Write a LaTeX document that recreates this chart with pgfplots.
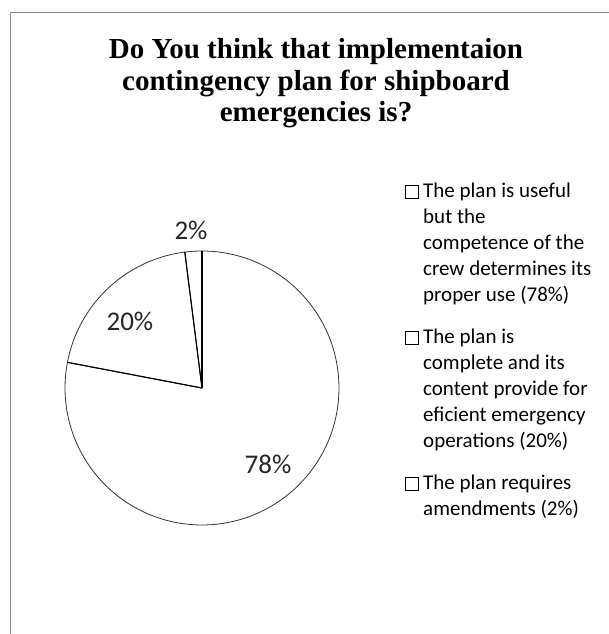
\documentclass[border=0pt]{standalone}
\usepackage{pgfplots}
\pgfplotsset{compat=1.18}
\usepackage{fontspec}
\setmainfont{Carlito}
\newfontfamily\titlefont{Liberation Serif}
\begin{document}
\begin{tikzpicture}
\path[use as bounding box] (0,0) rectangle (608pt,634pt);
\fill[white] (0,0) rectangle (608pt,634pt);
\draw[color={rgb,255:red,140;green,140;blue,140}, line width=1.6pt] (10.5pt,-5pt) -- (10.5pt,621.5pt) -- (615pt,621.5pt);
% title
\node[anchor=base, font=\titlefont\bfseries\fontsize{29}{31}\selectfont] at (316pt,575pt) {Do You think that implementaion};
\node[anchor=base, font=\titlefont\bfseries\fontsize{29}{31}\selectfont] at (316pt,543.5pt) {contingency plan for shipboard};
\node[anchor=base, font=\titlefont\bfseries\fontsize{29}{31}\selectfont] at (316pt,512pt) {emergencies is?};
\begin{axis}[
  hide axis, x=137pt, y=137pt,
  xmin=-1, xmax=1, ymin=-1, ymax=1,
  at={(202pt,246pt)}, anchor=center, clip=false,
]
% slices: 78% (90 -> -190.8), 20% (-190.8 -> -262.8), 2% (-262.8 -> -270)
\addplot[draw=black!80, line width=0.8pt, fill=white, domain=90:-190.8, samples=140] ({cos(x)},{sin(x)}) -- (axis cs:0,0) -- cycle;
\addplot[draw=black!80, line width=0.8pt, fill=white, domain=-190.8:-262.8, samples=40] ({cos(x)},{sin(x)}) -- (axis cs:0,0) -- cycle;
\addplot[draw=black!80, line width=0.8pt, fill=white, domain=-262.8:-270, samples=6] ({cos(x)},{sin(x)}) -- (axis cs:0,0) -- cycle;
% radial lines
\addplot[black, line width=1.1pt] coordinates {(0,0) (0,1)};
\addplot[black, line width=1.1pt] coordinates {(0,0) (-0.9823,0.1874)};
\addplot[black, line width=1.1pt] coordinates {(0,0) (-0.1253,0.9921)};
% labels
\node[font=\fontsize{27}{30}\selectfont, text=black!85] at (axis cs:0.482,-0.555) {78\%};
\node[font=\fontsize{27}{30}\selectfont, text=black!85] at (axis cs:-0.526,0.489) {20\%};
\node[font=\fontsize{27}{30}\selectfont, text=black!85] at (axis cs:-0.080,1.153) {2\%};
\end{axis}
% legend
\begin{scope}[every node/.style={anchor=base west, inner sep=0pt, font=\fontsize{21}{26}\selectfont, text=black}]
\draw[black, line width=0.7pt, fill=white] (405.5pt,436pt) rectangle (418pt,449pt);
\node at (423pt,436pt) {The plan is useful};
\node at (423pt,410pt) {but the};
\node at (423pt,384pt) {competence of the};
\node at (423pt,358pt) {crew determines its};
\node at (423pt,332pt) {proper use (78\%)};
\draw[black, line width=0.7pt, fill=white] (405.5pt,290pt) rectangle (418pt,303pt);
\node at (423pt,290pt) {The plan is};
\node at (423pt,264pt) {complete and its};
\node at (423pt,238pt) {content provide for};
\node at (423pt,212pt) {eficient emergency};
\node at (423pt,186pt) {operations (20\%)};
\draw[black, line width=0.7pt, fill=white] (405.5pt,144pt) rectangle (418pt,157pt);
\node at (423pt,144pt) {The plan requires};
\node at (423pt,118pt) {amendments (2\%)};
\end{scope}
\end{tikzpicture}
\end{document}
